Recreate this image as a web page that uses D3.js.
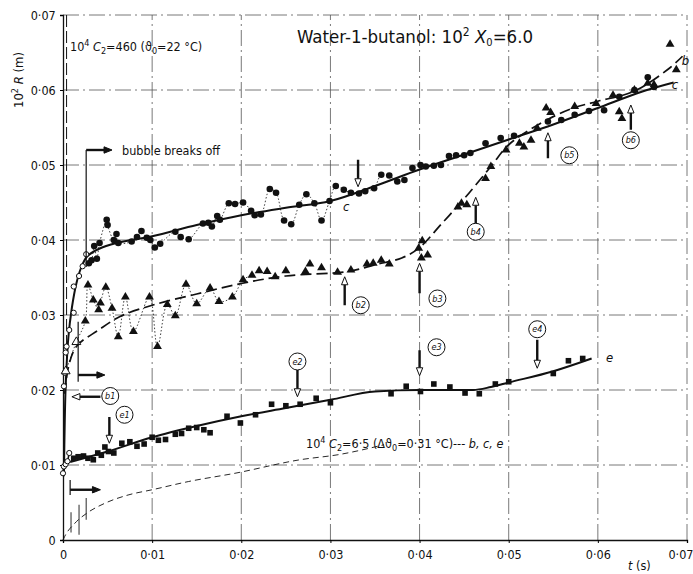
<!DOCTYPE html>
<html><head><meta charset="utf-8">
<script src="https://cdn.jsdelivr.net/npm/d3@7"></script>
<style>
body{margin:0;background:#fff;}
text{font-family:"DejaVu Sans Condensed","Liberation Sans Narrow","Liberation Sans",sans-serif;fill:#111;}
</style></head>
<body>
<svg id="chart" width="693" height="574"></svg>
<script>
// ---------- DATA ----------
const xTicks = [0,0.01,0.02,0.03,0.04,0.05,0.06,0.07];
const yTicks = [0,0.01,0.02,0.03,0.04,0.05,0.06,0.07];

// series c : filled circles
const cPoints = [[0.0029,0.0369],[0.0032,0.0373],[0.0035,0.0392],[0.0038,0.0375],[0.0041,0.0396],[0.0049,0.0427],[0.0050,0.0420],[0.0057,0.0400],[0.0060,0.0408],[0.0062,0.0396],[0.0077,0.0398],[0.0083,0.0404],[0.0088,0.0412],[0.0094,0.0403],[0.0098,0.0400],[0.0103,0.0390],[0.0109,0.0395],[0.0126,0.0411],[0.0132,0.0404],[0.0141,0.0401],[0.0157,0.0422],[0.0163,0.0423],[0.0167,0.0418],[0.0173,0.0432],[0.0176,0.0427],[0.0186,0.0449],[0.0193,0.0448],[0.0202,0.0450],[0.0211,0.0439],[0.0215,0.0433],[0.0222,0.0434],[0.0232,0.0468],[0.0239,0.0463],[0.0248,0.0426],[0.0256,0.0421],[0.0265,0.0447],[0.0273,0.0461],[0.0282,0.0449],[0.0290,0.0426],[0.0299,0.0452],[0.0306,0.0472],[0.0315,0.0467],[0.0323,0.0463],[0.0332,0.0462],[0.0339,0.0465],[0.0349,0.0469],[0.0357,0.0487],[0.0366,0.0486],[0.0375,0.0478],[0.0383,0.0480],[0.0392,0.0496],[0.0401,0.0500],[0.0407,0.0498],[0.0416,0.0499],[0.0424,0.0500],[0.0433,0.0512],[0.0441,0.0513],[0.0450,0.0513],[0.0457,0.0516],[0.0474,0.0529],[0.0491,0.0536],[0.0506,0.0539],[0.0544,0.0558],[0.0559,0.0560],[0.0574,0.0567],[0.0590,0.0572],[0.0607,0.0573],[0.0624,0.0591],[0.0641,0.0600],[0.0656,0.0617],[0.0663,0.0604]];
const cOpen = [[0.0001,0.0205],[0.0002,0.0223],[0.0003,0.0250],[0.0004,0.0258],[0.0007,0.0280],[0.0012,0.0303],[0.0012,0.0338],[0.0018,0.0352],[0.0022,0.0365],[0.0026,0.0381]];
const cFit = [[0.0001,0.0085],[0.0002,0.016],[0.0003,0.0205],[0.0006,0.0270],[0.0010,0.0310],[0.0015,0.0342],[0.0020,0.0362],[0.0027,0.0378],[0.0040,0.0388],[0.0060,0.0396],[0.0100,0.0405],[0.0150,0.0420],[0.0200,0.0433],[0.0250,0.0443],[0.0300,0.0452],[0.0350,0.0472],[0.0400,0.0494],[0.0450,0.0514],[0.0500,0.0534],[0.0550,0.0554],[0.0600,0.0576],[0.0650,0.0598],[0.0685,0.0610]];

// series b : filled triangles
const bPoints = [[0.0025,0.0292],[0.0028,0.0340],[0.0034,0.0320],[0.0040,0.0307],[0.0042,0.0316],[0.0048,0.0337],[0.0055,0.0309],[0.0062,0.0271],[0.0070,0.0324],[0.0079,0.0278],[0.0097,0.0324],[0.0106,0.0258],[0.0117,0.0314],[0.0126,0.0299],[0.0138,0.0341],[0.0150,0.0315],[0.0165,0.0336],[0.0175,0.0318],[0.0190,0.0324],[0.0202,0.0347],[0.0212,0.0353],[0.0220,0.0359],[0.0229,0.0358],[0.0238,0.0351],[0.0250,0.0359],[0.0272,0.0358],[0.0277,0.0368],[0.0290,0.0363],[0.0308,0.0357],[0.0323,0.0360],[0.0341,0.0368],[0.0348,0.0369],[0.0357,0.0373],[0.0366,0.0368],[0.0399,0.0389],[0.0402,0.0376],[0.0403,0.0399],[0.0409,0.0380],[0.0443,0.0444],[0.0447,0.0449],[0.0453,0.0447],[0.0474,0.0482],[0.0480,0.0498],[0.0497,0.0520],[0.0512,0.0529],[0.0517,0.0524],[0.0525,0.0533],[0.0532,0.0549],[0.0542,0.0576],[0.0547,0.0570],[0.0574,0.0578],[0.0598,0.0582],[0.0617,0.0593],[0.0624,0.0571],[0.0627,0.0562],[0.0641,0.0600],[0.0656,0.0609],[0.0663,0.0607],[0.0681,0.0661],[0.0688,0.0627]];
const bOpen = [[0.0003,0.0225],[0.0015,0.0264]];
const bFit = [[0.0002,0.0195],[0.0006,0.0230],[0.0015,0.0258],[0.0040,0.0280],[0.0064,0.0298],[0.0100,0.0313],[0.0150,0.0328],[0.0200,0.0342],[0.0250,0.0352],[0.0320,0.0358],[0.0350,0.0367],[0.0380,0.0376],[0.0400,0.0390],[0.0425,0.0422],[0.0450,0.0455],[0.0480,0.0498],[0.0500,0.0527],[0.0535,0.0555],[0.0570,0.0575],[0.0600,0.0585],[0.0640,0.0598],[0.0678,0.0627],[0.0695,0.0645]];

// series e : filled squares
const ePoints = [[0.0012,0.0109],[0.0017,0.0111],[0.0023,0.0112],[0.0028,0.0109],[0.0034,0.0107],[0.0039,0.0116],[0.0043,0.0113],[0.0047,0.0124],[0.0051,0.0118],[0.0057,0.0116],[0.0066,0.0129],[0.0075,0.0131],[0.0083,0.0125],[0.0091,0.0128],[0.0100,0.0137],[0.0107,0.0133],[0.0115,0.0134],[0.0126,0.0141],[0.0133,0.0142],[0.0141,0.0149],[0.0150,0.0150],[0.0158,0.0147],[0.0165,0.0143],[0.0184,0.0165],[0.0199,0.0156],[0.0216,0.0167],[0.0234,0.0181],[0.0250,0.0179],[0.0266,0.0181],[0.0284,0.0189],[0.0300,0.0183],[0.0368,0.0195],[0.0385,0.0205],[0.0401,0.0198],[0.0416,0.0208],[0.0434,0.0204],[0.0451,0.0196],[0.0467,0.0195],[0.0485,0.0208],[0.0500,0.0211],[0.0550,0.0222],[0.0567,0.0239],[0.0583,0.0242]];
const eOpen = [[0.0000,0.0089],[0.0001,0.0098],[0.0003,0.0101],[0.0005,0.0105],[0.0007,0.0116]];
const eFit = [[0.0008,0.0104],[0.0050,0.0118],[0.0100,0.0137],[0.0150,0.0152],[0.0200,0.0165],[0.0250,0.0176],[0.0300,0.0187],[0.0350,0.0198],[0.0400,0.0200],[0.0460,0.0200],[0.0480,0.0204],[0.0500,0.0210],[0.0550,0.0225],[0.0593,0.0242]];

// theory curve 10^4 C2 = 6.5
const theory = [[0,0],[0.0002,0.0005],[0.0013,0.0022],[0.0027,0.0036],[0.0047,0.0049],[0.0073,0.0060],[0.0100,0.0067],[0.0141,0.0078],[0.0193,0.0089],[0.0266,0.0107],[0.0310,0.0114],[0.0360,0.0127]];

// annotation arrows [t, R from, R to, hollow]
const vArrows = [[0.0331,0.0507,0.0471,true],[0.0316,0.0313,0.0351,true],[0.0400,0.0329,0.0369,true],[0.0463,0.0420,0.0457,true],[0.0544,0.0509,0.0543,true],[0.0637,0.0547,0.0580,true],[0.0052,0.0164,0.0129,true],[0.0263,0.0227,0.0191,true],[0.0400,0.0253,0.0219,true],[0.0532,0.0267,0.0229,true]];
const circleLabels = [["b1",0.0053,0.0192],["e1",0.0069,0.0167],["e2",0.0263,0.0238],["e3",0.0419,0.0257],["e4",0.0532,0.0281],["b2",0.0334,0.0313],["b3",0.0420,0.0322],["b4",0.0463,0.0411],["b5",0.0568,0.0513],["b6",0.0637,0.0533]];
// break-off markers: [t, R top, R bottom, R arrow, t arrow end]
const breakMarks = [[0.0026,0.0520,0.0364,0.0520,0.0055],[0.0017,0.0291,0.0211,0.0220,0.0047],[0.0008,0.0080,0.0060,0.0067,0.0042]];
const tickMarks = [[0.0009,0.0010,0.0037],[0.0018,0.0007,0.0047],[0.0026,0.0027,0.0056]];

// ---------- DRAW ----------
const svg = d3.select("#chart");
const x = d3.scaleLinear().domain([0,0.07]).range([63,687]);
const y = d3.scaleLinear().domain([0,0.07]).range([540,15]);
const fmt = v => v===0 ? "0" : d3.format(".2f")(v).replace(".","·");

// grid
const g = svg.append("g").attr("stroke","#555").attr("stroke-width",0.8).attr("stroke-dasharray","16,4,2,4");
xTicks.filter(v=>v>0).forEach(v=>g.append("line").attr("x1",x(v)).attr("x2",x(v)).attr("y1",y(0)).attr("y2",y(0.07)));
yTicks.filter(v=>v>0).forEach(v=>g.append("line").attr("y1",y(v)).attr("y2",y(v)).attr("x1",x(0)).attr("x2",x(0.07)));

// axes
const ax = svg.append("g").attr("transform",`translate(0,${y(0)})`).call(d3.axisBottom(x).tickValues(xTicks).tickFormat(fmt).tickSize(3));
const ay = svg.append("g").attr("transform",`translate(${x(0)},0)`).call(d3.axisLeft(y).tickValues(yTicks).tickFormat(fmt).tickSize(3));
[ax,ay].forEach(a=>{a.select(".domain").attr("stroke","#111").attr("stroke-width",1.3);a.selectAll("text").style("font-size","12.5px").attr("fill","#111");});
ax.selectAll(".tick text").attr("dy","1.0em");
ax.selectAll(".tick text").filter(d=>d===0.07).attr("text-anchor","end").attr("dx","6");
ay.selectAll(".tick text").attr("dx","-0.1em");

// dashed vertical at start
svg.append("line").attr("x1",x(0.0004)).attr("x2",x(0.0004)).attr("y1",y(0.07)).attr("y2",y(0.021))
  .attr("stroke","#111").attr("stroke-width",1).attr("stroke-dasharray","12,4");

const line = d3.line().x(d=>x(d[0])).y(d=>y(d[1])).curve(d3.curveMonotoneX);
const lineC = d3.line().x(d=>x(d[0])).y(d=>y(d[1])).curve(d3.curveCatmullRom);

// theory curve
svg.append("path").attr("d",line(theory)).attr("fill","none").attr("stroke","#111").attr("stroke-width",0.9).attr("stroke-dasharray","6,4");
// fits
svg.append("path").attr("d",lineC(cFit)).attr("fill","none").attr("stroke","#111").attr("stroke-width",2);
svg.append("path").attr("d",lineC(bFit)).attr("fill","none").attr("stroke","#111").attr("stroke-width",1.7).attr("stroke-dasharray","11,5");
svg.append("path").attr("d",line(eFit)).attr("fill","none").attr("stroke","#111").attr("stroke-width",2);
// dotted connection lines
svg.append("path").attr("d",lineC(cPoints.filter(d=>d[0]<0.0385))).attr("fill","none").attr("stroke","#111").attr("stroke-width",0.8).attr("stroke-dasharray","1.5,2");
svg.append("path").attr("d",lineC(bOpen.concat(bPoints.filter(d=>d[0]<0.0215)))).attr("fill","none").attr("stroke","#111").attr("stroke-width",0.8).attr("stroke-dasharray","1.5,2");
svg.append("path").attr("d",line(eOpen.slice().sort((a,b)=>a[1]-b[1]))).attr("fill","none").attr("stroke","#111").attr("stroke-width",1.5);

// small vertical tick marks near origin
tickMarks.forEach(d=>svg.append("line").attr("x1",x(d[0])).attr("x2",x(d[0])).attr("y1",y(d[1])).attr("y2",y(d[2])).attr("stroke","#111").attr("stroke-width",0.9));

// markers
svg.append("g").selectAll("circle").data(cPoints).join("circle").attr("cx",d=>x(d[0])).attr("cy",d=>y(d[1])).attr("r",3.3).attr("fill","#111");
svg.append("g").selectAll("circle").data(cOpen).join("circle").attr("cx",d=>x(d[0])).attr("cy",d=>y(d[1])).attr("r",2.6).attr("fill","#fff").attr("stroke","#111").attr("stroke-width",1);
svg.append("g").selectAll("circle").data(eOpen).join("circle").attr("cx",d=>x(d[0])).attr("cy",d=>y(d[1])).attr("r",2.6).attr("fill","#fff").attr("stroke","#111").attr("stroke-width",1);
const tri = d3.symbol().type(d3.symbolTriangle).size(34);
svg.append("g").selectAll("path").data(bPoints).join("path").attr("d",tri).attr("transform",d=>`translate(${x(d[0])},${y(d[1])})`).attr("fill","#111");
svg.append("g").selectAll("path").data(bOpen).join("path").attr("d",tri).attr("transform",d=>`translate(${x(d[0])},${y(d[1])})`).attr("fill","#fff").attr("stroke","#111");
svg.append("g").selectAll("rect").data(ePoints).join("rect").attr("x",d=>x(d[0])-2.8).attr("y",d=>y(d[1])-2.8).attr("width",5.6).attr("height",5.6).attr("fill","#111");

// arrows
function arrow(x1,y1,x2,y2,hollow){
  const dx=x2-x1, dy=y2-y1, L=Math.hypot(dx,dy), ux=dx/L, uy=dy/L, hl=8, hw=3.2;
  const bx=x2-ux*hl, by=y2-uy*hl;
  svg.append("line").attr("x1",x1).attr("y1",y1).attr("x2",bx).attr("y2",by).attr("stroke","#111").attr("stroke-width",2.4);
  svg.append("path").attr("d",`M${x2},${y2}L${bx-uy*hw},${by+ux*hw}L${bx+uy*hw},${by-ux*hw}Z`)
    .attr("fill",hollow?"#fff":"#111").attr("stroke","#111").attr("stroke-width",1);
}
vArrows.forEach(d=>arrow(x(d[0]),y(d[1]),x(d[0]),y(d[2]),d[3]));
arrow(x(0.0042),y(0.0191),x(0.0010),y(0.0191),true);
breakMarks.forEach(d=>{
  svg.append("line").attr("x1",x(d[0])).attr("x2",x(d[0])).attr("y1",y(d[1])).attr("y2",y(d[2])).attr("stroke","#111").attr("stroke-width",1.2);
  arrow(x(d[0]),y(d[3]),x(d[4]),y(d[3]),false);
});

// circle labels
const cl = svg.append("g").selectAll("g").data(circleLabels).join("g").attr("transform",d=>`translate(${x(d[1])},${y(d[2])})`);
cl.append("circle").attr("r",8.5).attr("fill","#fff").attr("stroke","#111").attr("stroke-width",1);
cl.append("text").attr("text-anchor","middle").attr("dy","0.35em").style("font-size","9px").style("font-style","italic").text(d=>d[0]);

// texts
svg.append("text").attr("x",297).attr("y",43).style("font-size","18.5px")
  .html('Water-1-butanol: 10<tspan dy="-7" style="font-size:12px">2</tspan><tspan dy="7" font-style="italic"> X</tspan><tspan dy="3" style="font-size:11px">0</tspan><tspan dy="-3">=6.0</tspan>');
svg.append("text").attr("x",70).attr("y",51).style("font-size","12.5px")
  .html('10<tspan dy="-5" style="font-size:9px">4</tspan><tspan dy="5" font-style="italic"> C</tspan><tspan dy="3" style="font-size:9px">2</tspan><tspan dy="-3">=460   (ϑ</tspan><tspan dy="3" style="font-size:9px">0</tspan><tspan dy="-3">=22 °C)</tspan>');
svg.append("text").attr("x",306).attr("y",448).style("font-size","12.5px")
  .html('10<tspan dy="-5" style="font-size:9px">4</tspan><tspan dy="5" font-style="italic"> C</tspan><tspan dy="3" style="font-size:9px">2</tspan><tspan dy="-3">=6·5 (Δϑ</tspan><tspan dy="3" style="font-size:9px">0</tspan><tspan dy="-3">=0·31 °C)--- </tspan><tspan font-style="italic">b, c, e</tspan>');
svg.append("text").attr("x",122).attr("y",155).style("font-size","12.5px").text("bubble  breaks  off");
svg.append("text").attr("transform","translate(23,80) rotate(-90)").attr("text-anchor","middle").style("font-size","13px")
  .html('10<tspan dy="-5" style="font-size:9px">2</tspan><tspan dy="5" font-style="italic"> R</tspan> (m)');
svg.append("text").attr("x",628).attr("y",570).style("font-size","12.5px").html('<tspan font-style="italic">t</tspan> (s)');
[["c",0.0314,0.0445],["c",0.0683,0.0608],["b",0.0694,0.0640],["e",0.0609,0.0244]].forEach(d=>
  svg.append("text").attr("x",x(d[1])).attr("y",y(d[2])).attr("dy","0.35em").style("font-size","13px").style("font-style","italic").text(d[0]));
</script>
</body></html>
